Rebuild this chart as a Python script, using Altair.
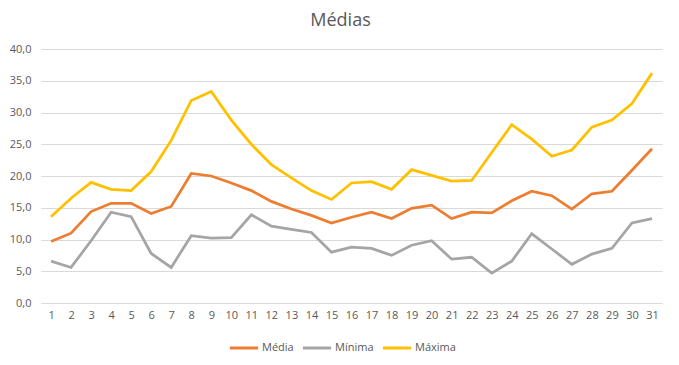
import altair as alt
import pandas as pd

days = list(range(1, 32))
media = [9.7, 11.0, 14.4, 15.7, 15.7, 14.1, 15.2, 20.4, 20.0, 18.9, 17.7, 16.0, 14.8, 13.8, 12.6,
         13.5, 14.3, 13.3, 14.9, 15.4, 13.3, 14.3, 14.2, 16.1, 17.6, 16.9, 14.8, 17.2, 17.6, 20.9, 24.3]
minima = [6.6, 5.6, 9.8, 14.3, 13.6, 7.8, 5.6, 10.6, 10.2, 10.3, 13.9, 12.1, 11.6, 11.1, 8.0,
          8.8, 8.6, 7.5, 9.1, 9.8, 6.9, 7.2, 4.7, 6.6, 10.9, 8.5, 6.1, 7.7, 8.6, 12.6, 13.3]
maxima = [13.6, 16.5, 19.0, 17.9, 17.7, 20.7, 25.6, 31.9, 33.3, 28.8, 25.0, 21.8, 19.7, 17.7, 16.3,
          18.9, 19.1, 17.9, 21.0, 20.1, 19.2, 19.3, 23.7, 28.1, 25.8, 23.1, 24.1, 27.7, 28.8, 31.4, 36.2]

series = ["Média", "Mínima", "Máxima"]
colors = ["#ED7D31", "#A5A5A5", "#FFC000"]

rows = []
for name, vals in zip(series, [media, minima, maxima]):
    for d, v in zip(days, vals):
        rows.append({"Dia": d, "Valor": v, "Série": name})
df = pd.DataFrame(rows)

FONT = "Open Sans"
TXT = "#595959"

chart = alt.Chart(df).mark_line(strokeWidth=2.75).encode(
    x=alt.X("Dia:O", sort=days,
            scale=alt.Scale(type="point", padding=0.5),
            axis=alt.Axis(title=None, labelAngle=0, ticks=False, domain=False, grid=False,
                          labelFontSize=11, labelColor=TXT, labelFont=FONT, labelPadding=6)),
    y=alt.Y("Valor:Q",
            scale=alt.Scale(domain=[0, 40], nice=False),
            axis=alt.Axis(title=None, values=[0, 5, 10, 15, 20, 25, 30, 35, 40],
                          labelExpr="replace(format(datum.value, '.1f'), '.', ',')",
                          ticks=False, domain=False, gridColor="#D9D9D9", gridWidth=1,
                          labelFontSize=11, labelColor=TXT, labelFont=FONT, labelPadding=10)),
    color=alt.Color("Série:N", sort=series,
                    scale=alt.Scale(domain=series, range=colors),
                    legend=alt.Legend(title=None, orient="none", direction="horizontal",
                                      legendX=187, legendY=283,
                                      symbolType="stroke", symbolSize=800, symbolStrokeWidth=3,
                                      labelFontSize=11, labelColor=TXT, labelFont=FONT,
                                      columnPadding=2, labelOffset=2)),
    order=alt.Order("Série:N", sort="ascending"),
).properties(
    width=621,
    height=254,
    autosize=alt.AutoSizeParams(type="none"),
    padding={"left": 33, "top": 41, "right": 9, "bottom": 54},
    title=alt.TitleParams("Médias", fontSize=18, font=FONT, color=TXT, fontWeight="normal",
                          anchor="middle", offset=13, dx=-11),
).configure_view(stroke=None)

chart.save("out.html", embed_options={"renderer": "svg", "actions": False})
